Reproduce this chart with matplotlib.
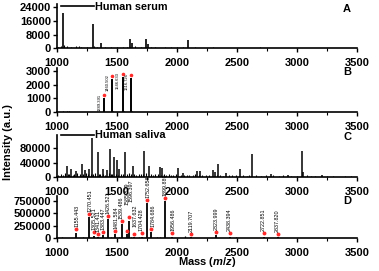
import matplotlib
matplotlib.use("Agg")
import matplotlib.pyplot as plt
from matplotlib.transforms import offset_copy
from matplotlib.ticker import MultipleLocator

plt.rcParams['font.family'] = ['Liberation Sans', 'DejaVu Sans']
plt.rcParams['font.weight'] = 'bold'
plt.rcParams['mathtext.fontset'] = 'custom'
plt.rcParams['mathtext.it'] = 'Liberation Sans:bold:italic'
plt.rcParams['mathtext.rm'] = 'Liberation Sans:bold'

# ---------------- data ----------------
# Panel A: human serum
serum_mz = [1046, 1297, 1364, 1608, 1628, 1739, 1756, 2094]
serum_int = [20500, 14200, 3000, 5200, 3200, 5400, 2500, 4800]
serum_noise_mz = [1010, 1030, 1060, 1080, 1120, 1160, 1180, 1200, 1250, 1310, 1330, 1400,
                  1450, 1500, 1550, 1580, 1650, 1700, 1780, 1820, 1900, 1950, 2000, 2050,
                  2150, 2200, 2300, 2400, 2500, 2600, 2690, 2800, 2900, 3000, 3100, 3200,
                  3300, 3400]
serum_noise_int = [900, 1100, 1800, 1500, 900, 1400, 1500, 800, 700, 1500, 1000, 900,
                   600, 800, 700, 900, 1200, 800, 900, 600, 700, 500, 600, 700,
                   500, 400, 500, 400, 300, 400, 700, 300, 400, 300, 300, 300,
                   200, 200]

# Panel B: enriched serum peptides
b_mz = [1389.391, 1460.502, 1546.633, 1616.726]
b_int = [1000, 2400, 2550, 2450]
b_labels = ["1389.391", "1460.502", "1546.633", "1616.726"]
b_noise_mz = [1050, 1080, 1100, 1130, 1200, 1300, 1395, 1470, 1555, 1625, 1700, 1800, 2000]
b_noise_int = [60, 90, 70, 50, 40, 40, 60, 80, 80, 70, 40, 30, 30]

# Panel C: human saliva
saliva_mz = [1081, 1114, 1158, 1211, 1233, 1269, 1292, 1339, 1386, 1414, 1442, 1475,
             1497, 1519, 1567, 1631, 1728, 1767, 1858, 1878, 2011, 2047, 2164, 2192,
             2297, 2317, 2344, 2408, 2525, 2628, 2783, 2922, 3039, 3053, 3206]
saliva_int = [32000, 22000, 18000, 37000, 20000, 22000, 107000, 69000, 24000, 20000,
              77000, 55000, 48000, 22000, 70000, 32000, 72000, 30000, 28000, 25000,
              26000, 12000, 18000, 16000, 20000, 14000, 36000, 12000, 22000, 64000,
              10000, 6000, 73000, 15000, 5000]
saliva_noise_mz = [1010, 1030, 1050, 1070, 1090, 1100, 1130, 1140, 1170, 1190, 1220, 1240,
                   1260, 1280, 1300, 1320, 1350, 1360, 1380, 1400, 1430, 1450, 1460, 1490,
                   1510, 1530, 1550, 1580, 1600, 1620, 1640, 1660, 1680, 1700, 1720, 1740,
                   1780, 1800, 1820, 1840, 1870, 1890, 1910, 1930, 1950, 1970, 1990, 2030,
                   2060, 2080, 2100, 2130, 2150, 2180, 2210, 2240, 2270, 2330, 2360, 2380,
                   2430, 2460, 2490, 2550, 2580, 2600, 2660, 2700, 2740, 2800, 2850, 2880,
                   2950, 3000, 3080, 3120, 3150, 3250, 3300, 3400, 3450]
saliva_noise_int = [6000, 9000, 7000, 11000, 8000, 10000, 7000, 9000, 12000, 8000, 9000, 11000,
                    8000, 10000, 9000, 12000, 8000, 10000, 9000, 7000, 11000, 9000, 8000, 10000,
                    7000, 9000, 8000, 10000, 11000, 8000, 9000, 7000, 10000, 8000, 9000, 11000,
                    8000, 7000, 9000, 8000, 7000, 10000, 6000, 8000, 7000, 6000, 9000, 7000,
                    6000, 5000, 7000, 6000, 8000, 5000, 7000, 5000, 6000, 5000, 7000, 4000,
                    6000, 5000, 7000, 5000, 4000, 6000, 5000, 4000, 6000, 7000, 4000, 5000,
                    3000, 4000, 5000, 3000, 4000, 3000, 2500, 3000, 2500]

# Panel D: enriched saliva peptides
d_mz = [1155.443, 1270.451, 1305.521, 1341.411, 1383.447, 1426.521, 1481.584, 1539.486,
        1585.519, 1596.397, 1637.632, 1704.428, 1752.658, 1784.686, 1899.889, 1956.486,
        2119.707, 2323.999, 2438.394, 2722.851, 2837.820]
d_int = [110000, 420000, 50000, 20000, 60000, 380000, 80000, 280000,
         80000, 350000, 15000, 30000, 700000, 120000, 740000, 30000,
         20000, 55000, 25000, 30000, 15000]
d_labels = ["1155.443", "1270.451", "1305.521", "1341.411", "1383.447", "1426.521",
            "1481.584", "1539.486", "1585.519", "1596.397", "1637.632", "1704.428",
            "1752.658", "1784.686", "1899.889", "1956.486", "2119.707", "2323.999",
            "2438.394", "2722.851", "2837.820"]
d_other_mz = [1040, 1100, 1220, 1450, 1520, 1620, 1680, 1830, 1860, 2068, 2200, 2300,
              2493, 2600, 3000, 3100]
d_other_int = [15000, 10000, 20000, 15000, 20000, 25000, 20000, 30000, 15000, 50000, 10000,
               10000, 30000, 8000, 5000, 8000]

# label nudges in pixels (layout only), aligned with d_labels
d_label_dx = [1, 0.5, 0, 0, 0, 0, 1.5, -1, -0.5, 2.4, 1.5, -0.5, 0.5, 1.5, 0.3, 1,
              0, 0, 0, 0, 0]
d_label_dy = [0, 0, 0, 0, 0, 0, 0, 0, 24, 13, 5, 0, 0, 0, 0, 0,
              0, 0, 0, 0, 0]

yticks_A = [0, 8000, 16000, 24000]
yticks_B = [0, 1000, 2000, 3000]
yticks_C = [0, 40000, 80000]
yticks_D = [0, 250000, 500000, 750000]
xticks = [1000, 1500, 2000, 2500, 3000, 3500]

# ---------------- figure ----------------
W, H = 379, 271
fig = plt.figure(figsize=(W / 100, H / 100), dpi=100)

left = 57 / W
width = 300 / W

def add_axes(top_px, bottom_px):
    return fig.add_axes([left, 1 - bottom_px / H, width, (bottom_px - top_px) / H])

axA = add_axes(4, 48.3)
axB = add_axes(68, 112.3)
axC = add_axes(135, 177.3)
axD = add_axes(196, 238)

tick_fs = 8

def style(ax, yticks, ylim):
    ax.set_xlim(1000, 3500)
    ax.set_ylim(0, ylim)
    ax.set_xticks(xticks)
    ax.xaxis.set_minor_locator(MultipleLocator(250))
    ax.set_yticks(yticks)
    ax.set_yticklabels([str(v) for v in yticks])
    for s in ['top', 'right']:
        ax.spines[s].set_visible(False)
    for s in ['left', 'bottom']:
        ax.spines[s].set_linewidth(1.2)
    ax.tick_params(axis='both', which='major', direction='out', length=3, width=1.0,
                   labelsize=tick_fs, pad=1.5)
    ax.tick_params(axis='x', which='major', pad=4)
    ax.tick_params(axis='x', which='minor', direction='out', length=2, width=0.8)
    for lab in ax.get_xticklabels() + ax.get_yticklabels():
        lab.set_fontweight('bold')
    ax.patch.set_alpha(0)

def sticks(ax, mz, vals, lw=1.1):
    ax.vlines(mz, 0, vals, colors='black', linewidth=lw)

# Panel A
sticks(axA, serum_noise_mz, serum_noise_int, lw=0.8)
sticks(axA, serum_mz, serum_int, lw=1.2)
axA.plot([], [], color='black', lw=1.2, label='Human serum')
style(axA, yticks_A, 26000)

# Panel B
sticks(axB, b_noise_mz, b_noise_int, lw=0.8)
sticks(axB, b_mz, b_int, lw=1.4)
tr_dot = offset_copy(axB.transData, fig=fig, x=0, y=3.2, units='dots')
axB.plot(b_mz, b_int, 'o', color='#ff2a2a', markersize=2.6, markeredgewidth=0,
         transform=tr_dot, clip_on=False)
tr_lab = offset_copy(axB.transData, fig=fig, x=-2.5, y=5, units='dots')
for m, v, t in zip(b_mz, b_int, b_labels):
    axB.text(m, v, t, rotation=90, ha='right', va='top', fontsize=3.0,
             fontweight='normal', transform=tr_lab)
style(axB, yticks_B, 3200)

# Panel C
sticks(axC, saliva_noise_mz, saliva_noise_int, lw=0.8)
sticks(axC, saliva_mz, saliva_int, lw=1.1)
axC.plot([], [], color='black', lw=1.2, label='Human saliva')
style(axC, yticks_C, 116000)

# Panel D
sticks(axD, d_other_mz, d_other_int, lw=0.9)
sticks(axD, d_mz, d_int, lw=1.3)
tr_dotD = offset_copy(axD.transData, fig=fig, x=0, y=3.5, units='dots')
axD.plot(d_mz, d_int, 'o', color='#ff2a2a', markersize=2.8, markeredgewidth=0,
         transform=tr_dotD, clip_on=False)
for m, v, t, dx, dy in zip(d_mz, d_int, d_labels, d_label_dx, d_label_dy):
    tr = offset_copy(axD.transData, fig=fig, x=dx, y=5.3 + dy, units='dots')
    axD.text(m, v, t, rotation=90, ha='center', va='bottom', fontsize=3.9,
             fontweight='normal', transform=tr, clip_on=False)
style(axD, yticks_D, 850000)

# Legends
for ax, ypx in ((axA, 7), (axC, 135.5)):
    ax.legend(loc='center left', bbox_to_anchor=(61 / W, 1 - ypx / H),
              bbox_transform=fig.transFigure, frameon=False,
              handlelength=3.0, handletextpad=0.15,
              borderaxespad=0, borderpad=0, prop={'weight': 'bold', 'size': 7.8})

# Panel letters
for ax, letter, ypx in ((axA, 'A', 9.3), (axB, 'B', 72.3), (axC, 'C', 136.7), (axD, 'D', 201)):
    fig.text(347 / W, 1 - ypx / H, letter, ha='center', va='center', fontsize=8,
             fontweight='bold')

fig.text(8 / W, 1 - 142 / H, 'Intensity (a.u.)', rotation=90, ha='center', va='center',
         fontsize=8, fontweight='bold')
fig.text(207 / W, 1 - 262 / H, 'Mass ($m/z$)', ha='center', va='center',
         fontsize=8, fontweight='bold')

fig.savefig('out.png', dpi=100)
